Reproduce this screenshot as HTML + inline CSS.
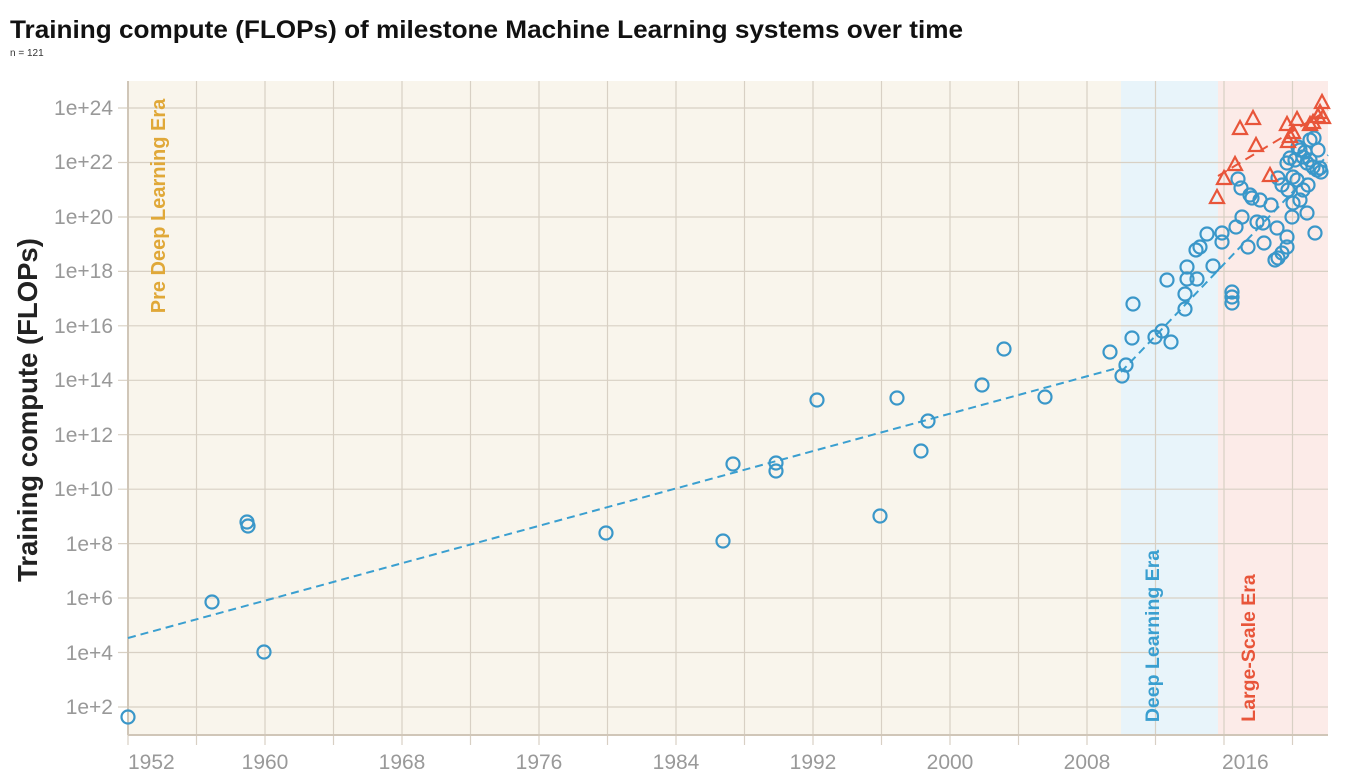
<!DOCTYPE html>
<html><head><meta charset="utf-8"><style>
body{margin:0;background:#fff;}
svg{display:block;font-family:"Liberation Sans",sans-serif;}
.c circle{fill:none;stroke:#3a97c9;stroke-width:2.2;}
.t polygon{fill:none;stroke:#e8553a;stroke-width:2.2;}
.tk{fill:#999;font-size:21px;}
</style></head><body>
<svg width="1345" height="778" viewBox="0 0 1345 778">
<text x="10" y="38" font-size="25" font-weight="bold" fill="#111" textLength="953" lengthAdjust="spacingAndGlyphs">Training compute (FLOPs) of milestone Machine Learning systems over time</text>
<text x="10" y="56" font-size="10" fill="#333">n = 121</text>
<rect x="128" y="81" width="993" height="654" fill="#f9f5ec"/>
<rect x="1121" y="81" width="97" height="654" fill="#e8f4fa"/>
<rect x="1218" y="81" width="110" height="654" fill="#fcebe8"/>
<g stroke="#d8d0c4" stroke-width="1.2">
<line x1="196.5" y1="81" x2="196.5" y2="735"/><line x1="265" y1="81" x2="265" y2="735"/><line x1="333.5" y1="81" x2="333.5" y2="735"/><line x1="402" y1="81" x2="402" y2="735"/><line x1="470.5" y1="81" x2="470.5" y2="735"/><line x1="539" y1="81" x2="539" y2="735"/><line x1="607.5" y1="81" x2="607.5" y2="735"/><line x1="676" y1="81" x2="676" y2="735"/><line x1="744.5" y1="81" x2="744.5" y2="735"/><line x1="813" y1="81" x2="813" y2="735"/><line x1="881.5" y1="81" x2="881.5" y2="735"/><line x1="950" y1="81" x2="950" y2="735"/><line x1="1018.5" y1="81" x2="1018.5" y2="735"/><line x1="1087" y1="81" x2="1087" y2="735"/><line x1="1155.5" y1="81" x2="1155.5" y2="735"/><line x1="1224" y1="81" x2="1224" y2="735"/><line x1="1292.5" y1="81" x2="1292.5" y2="735"/>
<line x1="118" y1="108" x2="1328" y2="108"/><line x1="118" y1="162.5" x2="1328" y2="162.5"/><line x1="118" y1="217" x2="1328" y2="217"/><line x1="118" y1="271.4" x2="1328" y2="271.4"/><line x1="118" y1="325.8" x2="1328" y2="325.8"/><line x1="118" y1="380.3" x2="1328" y2="380.3"/><line x1="118" y1="434.7" x2="1328" y2="434.7"/><line x1="118" y1="489.2" x2="1328" y2="489.2"/><line x1="118" y1="543.6" x2="1328" y2="543.6"/><line x1="118" y1="598" x2="1328" y2="598"/><line x1="118" y1="652.5" x2="1328" y2="652.5"/><line x1="118" y1="707" x2="1328" y2="707"/>
<line x1="128" y1="735" x2="128" y2="745"/><line x1="196.5" y1="735" x2="196.5" y2="745"/><line x1="265" y1="735" x2="265" y2="745"/><line x1="333.5" y1="735" x2="333.5" y2="745"/><line x1="402" y1="735" x2="402" y2="745"/><line x1="470.5" y1="735" x2="470.5" y2="745"/><line x1="539" y1="735" x2="539" y2="745"/><line x1="607.5" y1="735" x2="607.5" y2="745"/><line x1="676" y1="735" x2="676" y2="745"/><line x1="744.5" y1="735" x2="744.5" y2="745"/><line x1="813" y1="735" x2="813" y2="745"/><line x1="881.5" y1="735" x2="881.5" y2="745"/><line x1="950" y1="735" x2="950" y2="745"/><line x1="1018.5" y1="735" x2="1018.5" y2="745"/><line x1="1087" y1="735" x2="1087" y2="745"/><line x1="1155.5" y1="735" x2="1155.5" y2="745"/><line x1="1224" y1="735" x2="1224" y2="745"/><line x1="1292.5" y1="735" x2="1292.5" y2="745"/>
</g>
<line x1="128" y1="81" x2="128" y2="735" stroke="#d0c6b8" stroke-width="2"/>
<line x1="128" y1="735" x2="1328" y2="735" stroke="#d0c6b8" stroke-width="2"/>
<g class="tk" text-anchor="end">
<text x="113" y="115">1e+24</text><text x="113" y="169">1e+22</text><text x="113" y="224">1e+20</text><text x="113" y="278">1e+18</text><text x="113" y="333">1e+16</text><text x="113" y="387">1e+14</text><text x="113" y="442">1e+12</text><text x="113" y="496">1e+10</text><text x="113" y="551">1e+8</text><text x="113" y="605">1e+6</text><text x="113" y="660">1e+4</text><text x="113" y="714">1e+2</text>
</g>
<g class="tk" text-anchor="middle">
<text x="128" y="769" text-anchor="start">1952</text><text x="265" y="769">1960</text><text x="402" y="769">1968</text><text x="539" y="769">1976</text><text x="676" y="769">1984</text><text x="813" y="769">1992</text><text x="950" y="769">2000</text><text x="1087" y="769">2008</text><text x="1222" y="769" text-anchor="start">2016</text>
</g>
<text transform="translate(37,410) rotate(-90)" text-anchor="middle" font-size="27.5" font-weight="bold" fill="#222">Training compute (FLOPs)</text>
<text transform="translate(165,206) rotate(-90)" text-anchor="middle" font-size="20" font-weight="bold" fill="#e0a838">Pre Deep Learning Era</text>
<text transform="translate(1159,636) rotate(-90)" text-anchor="middle" font-size="19.5" font-weight="bold" fill="#3a9fd0">Deep Learning Era</text>
<text transform="translate(1255,648) rotate(-90)" text-anchor="middle" font-size="19.5" font-weight="bold" fill="#e8553a">Large-Scale Era</text>
<line x1="128" y1="638" x2="1121" y2="367" stroke="#3a9fd0" stroke-width="2" stroke-dasharray="8,5"/>
<line x1="1121" y1="372" x2="1328" y2="155" stroke="#3a9fd0" stroke-width="2" stroke-dasharray="8,5"/>
<line x1="1218" y1="176" x2="1328" y2="110" stroke="#e8553a" stroke-width="2" stroke-dasharray="10,6"/>
<g class="c">
<circle cx="128" cy="717" r="6.5"/><circle cx="212" cy="602" r="6.5"/><circle cx="247" cy="522" r="6.5"/><circle cx="248" cy="526" r="6.5"/><circle cx="264" cy="652" r="6.5"/><circle cx="606" cy="533" r="6.5"/><circle cx="723" cy="541" r="6.5"/><circle cx="733" cy="464" r="6.5"/><circle cx="776" cy="463" r="6.5"/><circle cx="776" cy="471" r="6.5"/><circle cx="817" cy="400" r="6.5"/><circle cx="880" cy="516" r="6.5"/><circle cx="897" cy="398" r="6.5"/><circle cx="921" cy="451" r="6.5"/><circle cx="928" cy="421" r="6.5"/><circle cx="982" cy="385" r="6.5"/><circle cx="1004" cy="349" r="6.5"/><circle cx="1045" cy="397" r="6.5"/><circle cx="1110" cy="352" r="6.5"/><circle cx="1122" cy="376" r="6.5"/><circle cx="1126" cy="365" r="6.5"/><circle cx="1132" cy="338" r="6.5"/><circle cx="1133" cy="304" r="6.5"/><circle cx="1155" cy="337" r="6.5"/><circle cx="1162" cy="331" r="6.5"/><circle cx="1171" cy="342" r="6.5"/><circle cx="1167" cy="280" r="6.5"/><circle cx="1185" cy="309" r="6.5"/><circle cx="1185" cy="294" r="6.5"/><circle cx="1187" cy="279" r="6.5"/><circle cx="1197" cy="279" r="6.5"/><circle cx="1187" cy="267" r="6.5"/><circle cx="1196" cy="250" r="6.5"/><circle cx="1200" cy="247" r="6.5"/><circle cx="1207" cy="234" r="6.5"/><circle cx="1213" cy="266" r="6.5"/><circle cx="1222" cy="233" r="6.5"/><circle cx="1222" cy="242" r="6.5"/><circle cx="1232" cy="292" r="6.5"/><circle cx="1232" cy="297" r="6.5"/><circle cx="1232" cy="303" r="6.5"/><circle cx="1236" cy="227" r="6.5"/><circle cx="1242" cy="217" r="6.5"/><circle cx="1248" cy="247" r="6.5"/><circle cx="1238" cy="179" r="6.5"/><circle cx="1241" cy="188" r="6.5"/><circle cx="1250" cy="195" r="6.5"/><circle cx="1252" cy="198" r="6.5"/><circle cx="1260" cy="200" r="6.5"/><circle cx="1257" cy="222" r="6.5"/><circle cx="1263" cy="223" r="6.5"/><circle cx="1264" cy="243" r="6.5"/><circle cx="1271" cy="205" r="6.5"/><circle cx="1277" cy="228" r="6.5"/><circle cx="1275" cy="260" r="6.5"/><circle cx="1278" cy="258" r="6.5"/><circle cx="1282" cy="253" r="6.5"/><circle cx="1287" cy="237" r="6.5"/><circle cx="1287" cy="247" r="6.5"/><circle cx="1278" cy="178" r="6.5"/><circle cx="1282" cy="185" r="6.5"/><circle cx="1287" cy="163" r="6.5"/><circle cx="1290" cy="158" r="6.5"/><circle cx="1295" cy="160" r="6.5"/><circle cx="1293" cy="177" r="6.5"/><circle cx="1297" cy="180" r="6.5"/><circle cx="1288" cy="190" r="6.5"/><circle cx="1293" cy="203" r="6.5"/><circle cx="1292" cy="217" r="6.5"/><circle cx="1300" cy="150" r="6.5"/><circle cx="1303" cy="157" r="6.5"/><circle cx="1307" cy="163" r="6.5"/><circle cx="1310" cy="160" r="6.5"/><circle cx="1313" cy="167" r="6.5"/><circle cx="1317" cy="170" r="6.5"/><circle cx="1320" cy="168" r="6.5"/><circle cx="1310" cy="140" r="6.5"/><circle cx="1314" cy="138" r="6.5"/><circle cx="1308" cy="185" r="6.5"/><circle cx="1307" cy="213" r="6.5"/><circle cx="1315" cy="233" r="6.5"/><circle cx="1300" cy="200" r="6.5"/><circle cx="1303" cy="190" r="6.5"/><circle cx="1318" cy="150" r="6.5"/><circle cx="1321" cy="172" r="6.5"/><circle cx="1298" cy="147" r="6.5"/><circle cx="1305" cy="152" r="6.5"/>
</g>
<g class="t">
<polygon points="1217,190 1210,203 1224,203"/><polygon points="1224,171 1217,184 1231,184"/><polygon points="1235,157 1228,170 1242,170"/><polygon points="1240,121 1233,134 1247,134"/><polygon points="1253,111 1246,124 1260,124"/><polygon points="1256,138 1249,151 1263,151"/><polygon points="1270,168 1263,181 1277,181"/><polygon points="1287,117 1280,130 1294,130"/><polygon points="1293,125 1286,138 1300,138"/><polygon points="1297,112 1290,125 1304,125"/><polygon points="1288,134 1281,147 1295,147"/><polygon points="1290,129 1283,142 1297,142"/><polygon points="1310,117 1303,130 1317,130"/><polygon points="1313,115 1306,128 1320,128"/><polygon points="1318,109 1311,122 1325,122"/><polygon points="1322,95 1315,108 1329,108"/><polygon points="1320,105 1313,118 1327,118"/><polygon points="1323,110 1316,123 1330,123"/>
</g>
</svg>
</body></html>
